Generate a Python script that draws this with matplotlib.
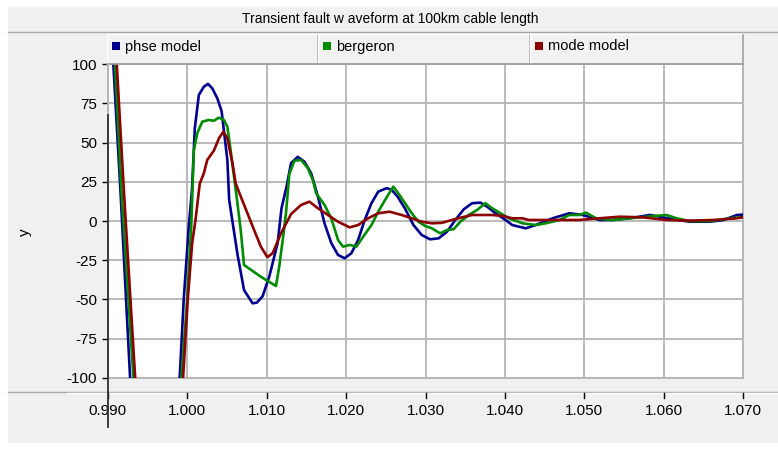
import matplotlib
matplotlib.use('Agg')
import matplotlib.pyplot as plt
from matplotlib.patches import Rectangle
from matplotlib.lines import Line2D

plt.rcParams['font.family'] = ['Liberation Sans', 'DejaVu Sans']

title = 'Transient fault w aveform at 100km cable length'
series_names = ['phse model', 'bergeron', 'mode model']
series_colors = ['#000090', '#008c00', '#8c0000']

x_ticks = [0.990, 1.000, 1.010, 1.020, 1.030, 1.040, 1.050, 1.060, 1.070]
y_ticks = [-100, -75, -50, -25, 0, 25, 50, 75, 100]

# phse model
t_phase = [0.99000, 0.99071, 0.99162, 0.99282, 0.99600, 0.99906, 0.99957, 1.00020, 1.00061,
           1.00096, 1.00147, 1.00210, 1.00263, 1.00316, 1.00380, 1.00434, 1.00506, 1.00529,
           1.00633, 1.00716, 1.00823, 1.00877, 1.00949, 1.01033, 1.01139, 1.01187, 1.01251,
           1.01308, 1.01392, 1.01476, 1.01561, 1.01646, 1.01729, 1.01814, 1.01899, 1.01982,
           1.02067, 1.02152, 1.02235, 1.02320, 1.02405, 1.02510, 1.02573, 1.02649, 1.02742,
           1.02848, 1.02953, 1.03058, 1.03165, 1.03270, 1.03375, 1.03481, 1.03586, 1.03691,
           1.03776, 1.03881, 1.04008, 1.04092, 1.04261, 1.04387, 1.04599, 1.04810, 1.04978,
           1.05190, 1.05358, 1.05570, 1.05823, 1.05949, 1.06118, 1.06329, 1.06582, 1.06751,
           1.06919, 1.07046]
y_phase = [170, 100, 18, -100, -260, -100, -50, -3.6, 20,
           59, 80.4, 85.7, 87.5, 84.7, 78.3, 70, 39, 13.5,
           -21, -44, -52.4, -52, -48, -35.5, -14, 8, 22,
           37, 41, 37.9, 30.5, 15.6, -1.4, -14, -21.6, -23.7,
           -20.5, -12, 0.7, 11.4, 18.8, 21, 20, 15.6, 8,
           -2.5, -8.9, -11.6, -11, -6.8, 0.7, 7.5, 11.4, 11.8,
           9.2, 5, 0.7, -2.5, -4.6, -2.5, 1.8, 5, 3.9,
           0.7, 0.7, 1.8, 3.9, 2.8, 1.1, -0.4, -0.4, 0.7,
           3.9, 4.3]

# bergeron
t_berg = [0.99000, 0.99092, 0.99175, 0.99324, 0.99630, 0.99928, 1.00000, 1.00051, 1.00084,
          1.00127, 1.00190, 1.00273, 1.00337, 1.00400, 1.00463, 1.00506, 1.00548, 1.00590,
          1.00633, 1.00675, 1.00716, 1.00759, 1.00928, 1.01118, 1.01159, 1.01203, 1.01244,
          1.01286, 1.01349, 1.01434, 1.01519, 1.01582, 1.01624, 1.01729, 1.01814, 1.01899,
          1.01962, 1.02046, 1.02130, 1.02215, 1.02320, 1.02405, 1.02497, 1.02595, 1.02658,
          1.02742, 1.02827, 1.02911, 1.02995, 1.03080, 1.03185, 1.03270, 1.03354, 1.03438,
          1.03544, 1.03649, 1.03754, 1.03839, 1.03944, 1.04051, 1.04219, 1.04387, 1.04514,
          1.04684, 1.04810, 1.04937, 1.05020, 1.05147, 1.05358, 1.05570, 1.05780, 1.06033,
          1.06159, 1.06329, 1.06582, 1.06835, 1.07046]
y_berg = [190, 100, 18, -100, -250, -100, -50, -3.6, 45,
          56, 63.4, 64.5, 64, 66, 64.5, 60.2, 45, 28.3,
          11.4, -6, -28, -29.5, -35.5, -41.4, -29, -12, 5,
          30, 38.5, 39, 33.7, 26.2, 17.7, 10.3, 1.8, -12,
          -16.3, -15.2, -16.3, -10, -2.5, 6, 14, 22, 17.7,
          11.4, 5, -0.4, -3.1, -4.6, -7.8, -5.7, -5.2, -0.4,
          3.9, 7.1, 11.4, 8.2, 5, 1.8, -1.4, -2.5, -1.4,
          0.7, 3.9, 3.9, 5.4, 1.8, 0.7, 1.8, 2.8, 3.9,
          1.8, 0, 0, 1.8, 2.8]

# mode model
t_mode = [0.99000, 0.99114, 0.99204, 0.99346, 0.99650, 0.99949, 1.00008, 1.00063, 1.00105,
          1.00159, 1.00210, 1.00253, 1.00337, 1.00400, 1.00456, 1.00506, 1.00570, 1.00611,
          1.00675, 1.00759, 1.00843, 1.00928, 1.01010, 1.01076, 1.01181, 1.01308, 1.01434,
          1.01539, 1.01646, 1.01772, 1.01899, 1.02046, 1.02152, 1.02278, 1.02405, 1.02548,
          1.02700, 1.02827, 1.02953, 1.03080, 1.03206, 1.03332, 1.03459, 1.03586, 1.03839,
          1.03966, 1.04092, 1.04219, 1.04304, 1.04599, 1.04937, 1.05190, 1.05443, 1.05738,
          1.06033, 1.06329, 1.06624, 1.06919, 1.07046]
y_mode = [210, 100, 19, -100, -250, -100, -50, -14, 0.7,
          24, 30.5, 39, 45, 52.8, 57, 52.8, 36.9, 24,
          15.6, 5, -5.7, -16.3, -23, -20.5, -7.8, 4.5, 10.3,
          12.4, 8.2, 3.9, -0.4, -4, -2.5, 1.8, 5, 6,
          3.9, 1.8, -0.4, -1.4, -1.1, 0.7, 2.4, 3.9, 3.9,
          3.3, 1.8, 1.8, 0.7, 0.7, 0.7, 1.8, 2.8, 2.4,
          0.7, 0.3, 0.7, 1.8, 2.8]

W, H = 778, 457
BG = '#f0f0f0'
GRID = '#b4b4b4'


def fx(px):
    return px / W


def fy(py):
    return 1 - py / H


fig = plt.figure(figsize=(W / 100, H / 100), dpi=100, facecolor='white')

# gray panel
fig.add_artist(Rectangle((fx(8), fy(443)), fx(770), 436 / H, transform=fig.transFigure,
                         facecolor=BG, edgecolor='none', zorder=0))
# title band
fig.text(fx(390), fy(19), title, ha='center', va='center', fontsize=10)
fig.add_artist(Line2D([fx(8), 1], [fy(32), fy(32)], color='#a8a8a8', lw=1))

# legend strip, one raised cell per series
cells = [(107, 318), (318, 530), (530, 743)]
for (x0, x1), name, col in zip(cells, series_names, series_colors):
    fig.add_artist(Rectangle((fx(x0), fy(63)), fx(x1 - x0), 29 / H, transform=fig.transFigure,
                             facecolor='#f2f2f2', edgecolor='none', zorder=1))
    fig.add_artist(Line2D([fx(x0), fx(x1), fx(x1)], [fy(34), fy(34), fy(63)],
                          color='white', lw=1, zorder=2))
    fig.add_artist(Line2D([fx(x0), fx(x0)], [fy(34), fy(63)], color='white', lw=1, zorder=2))
    fig.add_artist(Line2D([fx(x1), fx(x1)], [fy(35), fy(64)], color='#a0a0a0', lw=1.2, zorder=2))
    fig.add_artist(Line2D([fx(x0), fx(x1)], [fy(64), fy(64)], color='#a0a0a0', lw=1.2, zorder=2))
    fig.add_artist(Rectangle((fx(x0 + 5), fy(50)), fx(8), 8 / H, transform=fig.transFigure,
                             facecolor=col, edgecolor='none', zorder=3))
    fig.text(fx(x0 + 18), fy(46.5), name, ha='left', va='center', fontsize=10.5, zorder=3)

# plot area
ax = fig.add_axes([fx(107.7), fy(377.9), fx(743.3 - 107.7), (377.9 - 64.3) / H])
ax.set_facecolor('white')
ax.plot(t_phase, y_phase, color=series_colors[0], lw=1.9, zorder=3)
ax.plot(t_berg, y_berg, color=series_colors[1], lw=1.9, zorder=3)
ax.plot(t_mode, y_mode, color=series_colors[2], lw=1.9, zorder=3)

ax.set_xlim(0.990, 1.070)
ax.set_ylim(-100, 100)
ax.set_xticks(x_ticks)
ax.set_xticklabels(['%.3f' % v for v in x_ticks], fontsize=11)
ax.set_yticks(y_ticks)
ax.set_yticklabels([str(v) for v in y_ticks], fontsize=11)
ax.grid(True, color=GRID, lw=1.3)
ax.set_axisbelow(True)
for s in ['left', 'right', 'top', 'bottom']:
    ax.spines[s].set_color(GRID)
    ax.spines[s].set_linewidth(1.3)
# x labels sit below a separator line, their tick marks are drawn there too
ax.tick_params(axis='x', length=0, pad=19)
ax.tick_params(axis='y', direction='out', length=4.5, width=1, color='black', pad=3)
fig.text(fx(25), fy(232), 'y', rotation=90, ha='center', va='center', fontsize=11)

fig.add_artist(Line2D([fx(8), 1], [fy(391.7), fy(391.7)], color='#a8a8a8', lw=1, zorder=1))
fig.add_artist(Line2D([fx(67), 1], [fy(393), fy(393)], color='white', lw=1, zorder=1))
for v in x_ticks:
    px = ax.transData.transform((v, 0))[0]
    fig.add_artist(Line2D([px / W, px / W], [fy(393), fy(398)], color='black', lw=1, zorder=2))
# the odd dark vertical axis line at the left edge
fig.add_artist(Line2D([fx(108.5), fx(108.5)], [fy(115), fy(427)], color='#303030', lw=1.3, zorder=5))

fig.savefig('out.png', dpi=100, facecolor=fig.get_facecolor())
